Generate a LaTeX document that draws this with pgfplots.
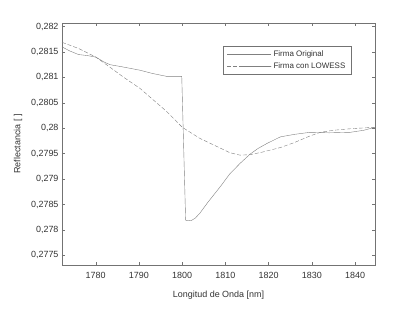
\documentclass[border=0pt]{standalone}
\usepackage{pgfplots}
\pgfplotsset{compat=1.18}
\usepackage{fontspec}
\setmainfont{Liberation Sans}
\definecolor{axgray}{gray}{0.45}
\definecolor{txtgray}{gray}{0.2}
\definecolor{lngray}{gray}{0.5}
\begin{document}
\begin{tikzpicture}[x=1bp,y=1bp]
\useasboundingbox (-62bp,-46bp) rectangle (353bp,265bp);
\begin{axis}[
  at={(0,0)}, anchor=south west,
  scale only axis, width=313bp, height=242bp,
  xmin=1772.2, xmax=1844.6,
  ymin=0.27731, ymax=0.28207,
  xtick={1780,1790,...,1840},
  ytick={0.2775,0.278,0.2785,0.279,0.2795,0.28,0.2805,0.281,0.2815,0.282},
  tick align=inside,
  tick style={axgray, thin},
  major tick length=3bp,
  axis line style={axgray, thin},
  tick label style={font=\fontsize{9}{10}\selectfont, text=txtgray},
  /pgf/number format/assume math mode=true,
  yticklabel style={/pgf/number format/.cd, fixed, precision=4, use comma},
  xticklabel style={yshift=-4bp, /pgf/number format/.cd, 1000 sep={}},
  xlabel={Longitud de Onda [nm]},
  ylabel={Reflectancia [ ]},
  label style={font=\fontsize{9}{10}\selectfont, text=txtgray},
  xlabel style={yshift=-5bp},
  ylabel style={yshift=2bp},
  legend style={at={(0.5144,0.789)}, anchor=south west, draw=axgray, fill=white,
    font=\fontsize{8}{9}\selectfont, text=txtgray, inner xsep=4bp, inner ysep=2bp, row sep=1bp},
  legend image code/.code={\path (0bp,0bp) -- (44bp,0bp); \draw[#1] (14bp,0bp) -- (44bp,0bp);},
  legend cell align=left,
]
\addplot[lngray, thin] coordinates {
(1772.2,0.28160) (1774,0.28152) (1776,0.28145) (1778,0.28143) (1780,0.28140)
(1782,0.28130) (1783.3,0.28125) (1786,0.28121) (1790.3,0.28114)
(1793,0.28108) (1796.4,0.28102) (1799.9,0.28102) (1800.8,0.27819)
(1802,0.27818) (1803,0.27823) (1804.1,0.27833) (1806,0.27855)
(1808.8,0.27885) (1811,0.27910) (1813.4,0.27931) (1815.7,0.27949)
(1817.5,0.27960) (1819.6,0.27970) (1822.7,0.27983) (1826,0.27988)
(1829.6,0.27992) (1834,0.27991) (1838.9,0.27992) (1842,0.27996) (1844.6,0.28002)
};
\addlegendentry{Firma Original}
\addplot[lngray, thin, dash pattern=on 4bp off 2bp] coordinates {
(1772.2,0.28169) (1776,0.28157) (1780,0.28140) (1783.3,0.28120)
(1786.5,0.28100) (1790.3,0.28078) (1793,0.28058) (1796.4,0.28033)
(1800,0.28002) (1804.1,0.27980) (1808.8,0.27961) (1811,0.27952)
(1813.4,0.27947) (1815.7,0.27948) (1818.5,0.27953) (1822.7,0.27962)
(1826,0.27972) (1829.6,0.27985) (1832,0.27992) (1835,0.27996)
(1838.9,0.27999) (1844.6,0.28002)
};
\addlegendentry{Firma con LOWESS}
\end{axis}
\end{tikzpicture}
\end{document}
